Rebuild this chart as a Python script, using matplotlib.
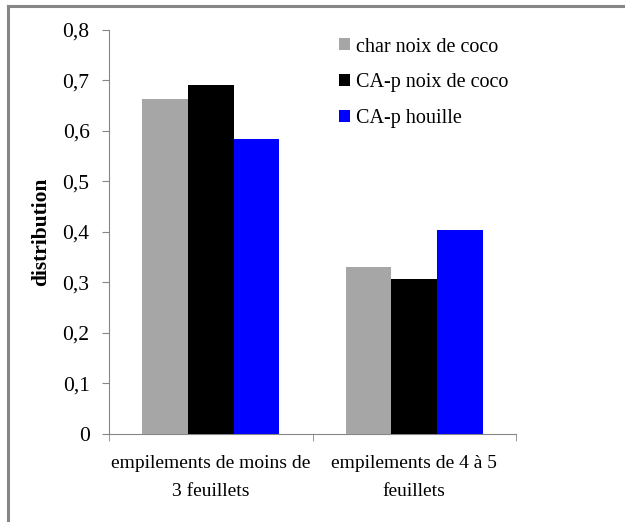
import matplotlib
matplotlib.use("Agg")
import matplotlib.pyplot as plt
import numpy as np
from matplotlib.patches import Patch
from matplotlib.lines import Line2D

# data
categories = ["empilements de moins de\n3 feuillets", "empilements de 4 à 5\nfeuillets"]
series_names = ["char noix de coco", "CA-p noix de coco", "CA-p houille"]
char_coco = [0.663, 0.331]
cap_coco = [0.690, 0.307]
cap_houille = [0.584, 0.403]
colors = ["#A6A6A6", "#000000", "#0000FF"]
yticks = [0, 0.1, 0.2, 0.3, 0.4, 0.5, 0.6, 0.7, 0.8]
ytick_labels = ["0", "0,1", "0,2", "0,3", "0,4", "0,5", "0,6", "0,7", "0,8"]

plt.rcParams['font.family'] = ['Liberation Serif', 'DejaVu Serif']
plt.rcParams['font.size'] = 14.5

fig = plt.figure(figsize=(6.25, 5.22), dpi=100)
ax = fig.add_axes([109/625, 88/522, 407/625, 404.5/522])

x = np.arange(len(categories))
w = 0.224
for i, (vals, c, name) in enumerate(zip([char_coco, cap_coco, cap_houille], colors, series_names)):
    ax.bar(x + (i - 1) * w, vals, width=w, color=c, label=name, zorder=3)

ax.set_xlim(-0.5, 1.5)
ax.set_ylim(0, 0.8)
ax.set_yticks(yticks)
ax.set_yticklabels(ytick_labels, fontsize=15.5)
ax.set_xticks(x)
ax.set_xticklabels(categories, linespacing=1.85, fontsize=14)
ax.set_xticks([-0.5, 0.5, 1.5], minor=True)
ax.tick_params(axis='x', which='major', length=0, pad=15)
ax.tick_params(axis='x', which='minor', length=5, color='#868686', direction='out')
ax.tick_params(axis='y', length=5, color='#868686', direction='out', pad=9)

for s in ['top', 'right']:
    ax.spines[s].set_visible(False)
for s in ['left', 'bottom']:
    ax.spines[s].set_color('#868686')

ax.set_ylabel("distribution", fontweight='bold', fontsize=15.5)
ax.yaxis.set_label_coords(-58/407, 0.5)

handles = [Patch(facecolor=c, edgecolor='none') for c in colors]
ax.legend(handles, series_names, loc='upper left', bbox_to_anchor=(216/407, 1.015),
          frameon=False, handlelength=0.55, handleheight=0.55, handletextpad=0.3,
          labelspacing=0.83, borderaxespad=0.3)

# outer frame (only top and left edges visible)
fig.add_artist(Line2D([8/625, 8/625], [0, 1 - 5.5/522], transform=fig.transFigure, color='#868686', lw=2.2))
fig.add_artist(Line2D([8/625, 1], [1 - 5.5/522, 1 - 5.5/522], transform=fig.transFigure, color='#868686', lw=2.2))

fig.savefig("out.png", dpi=100)
